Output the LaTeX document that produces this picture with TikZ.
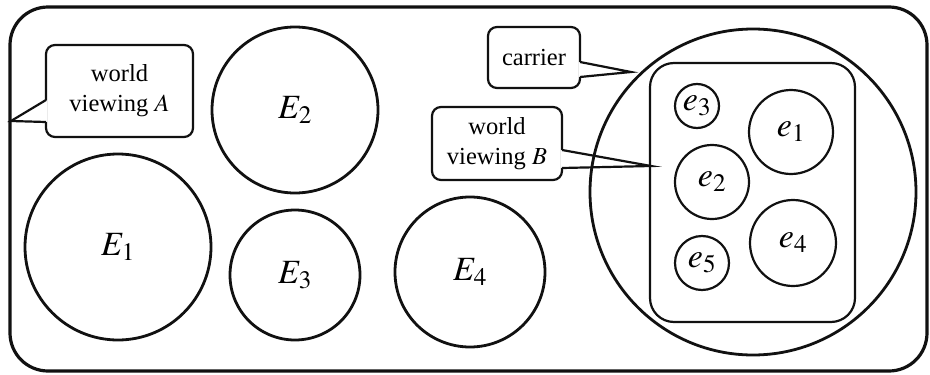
\documentclass[tikz,border=0pt]{standalone}
\usepackage{mathptmx}
\usepackage{fontspec}
\setmainfont{Liberation Serif}
\usetikzlibrary{positioning}
\definecolor{Ink}{HTML}{111111}
\tikzset{
  worldframe/.style={draw=Ink,line width=3.2pt,rounded corners=38pt},
  bigcirc/.style={circle,draw=Ink,line width=2.8pt,inner sep=0pt,
    font=\fontsize{34}{36}\selectfont},
  smallcirc/.style={circle,draw=Ink,line width=2.2pt,inner sep=0pt,
    font=\fontsize{34}{36}\selectfont},
  carrierbox/.style={draw=Ink,line width=2.2pt,rounded corners=24pt,inner sep=0pt},
  callbox/.style={draw=Ink,fill=white,line width=2.2pt,rounded corners=9pt,
    align=center,inner sep=0pt,font=\fontsize{24.5}{30}\selectfont},
  pointer/.style={draw=Ink,line width=2.2pt,line join=miter},
}

\begin{document}
\begin{tikzpicture}[x=1pt,y=-1pt]
  \useasboundingbox (0,0) rectangle (930,375);
  \draw[worldframe] (10,7) rectangle (927,371);

  % callouts
  \node[callbox,minimum width=147pt,minimum height=92pt] (wvA) at (119.5,91) {world\\viewing $A$};
  \node[callbox,minimum width=92pt,minimum height=61pt] (carr) at (534,57.5) {carrier};
  \node[callbox,minimum width=130pt,minimum height=73pt] (wvB) at (497,143.5) {world\\viewing $B$};
  \coordinate (tipA) at (11,121);
  \coordinate (tipC) at (631,72);
  \coordinate (tipB) at (651,166);
  \fill[white] ([xshift=2.5pt,yshift=-9pt]wvA.west) -- (tipA) -- ([xshift=2.5pt,yshift=-31pt]wvA.west) -- cycle;
  \draw[pointer] ([xshift=1.1pt,yshift=-9pt]wvA.west) -- (tipA) -- ([xshift=1.1pt,yshift=-31pt]wvA.west);
  \fill[white] ([xshift=-2.5pt,yshift=-4.5pt]carr.east) -- (tipC) -- ([xshift=-2.5pt,yshift=-19.5pt]carr.east) -- cycle;
  \draw[pointer] ([xshift=-1.1pt,yshift=-4.5pt]carr.east) -- (tipC) -- ([xshift=-1.1pt,yshift=-19.5pt]carr.east);
  \fill[white] ([xshift=-2.5pt,yshift=-6.5pt]wvB.east) -- (tipB) -- ([xshift=-2.5pt,yshift=-24.5pt]wvB.east) -- cycle;
  \draw[pointer] ([xshift=-1.1pt,yshift=-6.5pt]wvB.east) -- (tipB) -- ([xshift=-1.1pt,yshift=-24.5pt]wvB.east);

  % world A
  \node[bigcirc,minimum size=186pt] (E1) at (118,247) {$E_1$};
  \node[bigcirc,minimum size=166pt] (E2) at (295,110) {$E_2$};
  \node[bigcirc,minimum size=130pt] (E3) at (295,275) {$E_3$};
  \node[bigcirc,minimum size=150pt] (E4) at (470,272) {$E_4$};

  % world B
  \node[bigcirc,minimum size=326pt] (carrier) at (753,192) {};
  \node[carrierbox,minimum width=205pt,minimum height=259pt] (inner) at (752.5,192.5) {};
  \node[smallcirc,minimum size=84pt] (e1) at (791,132) {$e_1$};
  \node[smallcirc,minimum size=74pt] (e2) at (712,182) {$e_2$};
  \node[smallcirc,minimum size=44pt] (e3) at (697,106) {$e_3$};
  \node[smallcirc,minimum size=86pt] (e4) at (793,243) {$e_4$};
  \node[smallcirc,minimum size=54pt] (e5) at (702,263) {$e_5$};
\end{tikzpicture}
\end{document}
